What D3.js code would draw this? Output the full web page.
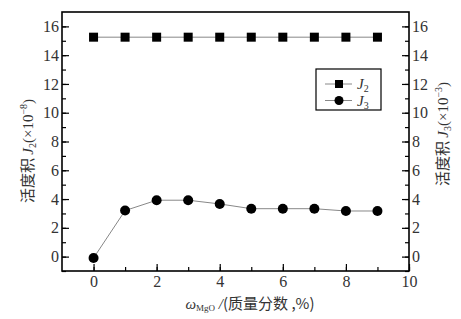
<!DOCTYPE html>
<html lang="zh">
<head>
    <meta charset="UTF-8">
    <title>活度积</title>
    <style>
        body { margin: 0; background: #fff; }
        text { fill: #333; }
    </style>
</head>
<body>
<script src="https://d3js.org/d3.v7.min.js"></script>
<script>
    var mgo = [0, 1, 2, 3, 4, 5, 6, 7, 8, 9];
    var j2 = [15.25, 15.25, 15.25, 15.25, 15.25, 15.25, 15.25, 15.25, 15.25, 15.25];
    var j3 = [-0.1, 3.2, 3.92, 3.92, 3.66, 3.33, 3.33, 3.33, 3.17, 3.17];
    var xTicks = [0, 2, 4, 6, 8, 10];
    var yTicks = [0, 2, 4, 6, 8, 10, 12, 14, 16];

    var width = 461,
        height = 319;
    // plot frame (note: "top" is a reserved window property, so use m-prefixed names)
    var mLeft = 62, mRight = 409, mTop = 12, mBottom = 271;
    var serif = "'Liberation Serif', 'Times New Roman', serif";
    var cjk = "'Noto Sans CJK SC', sans-serif";

    var svg = d3.select("body")
        .append("svg")
        .attr("width", width)
        .attr("height", height);

    var x = d3.scaleLinear().domain([-1, 10]).range([mLeft, mRight]);
    var y = d3.scaleLinear().domain([-1, 17]).range([mBottom, mTop]);

    // minor ticks every 1, major every 2, all pointing inward
    function axisStyle(g, labels) {
        g.select(".domain").remove();
        g.selectAll("text")
            .style("font-family", serif)
            .style("font-size", "16px")
            .style("fill", "#333");
        if (!labels) g.selectAll("text").remove();
        g.selectAll("line").attr("stroke", "#000").attr("stroke-width", 1.2);
    }

    svg.append("g")
        .attr("transform", "translate(0," + mBottom + ")")
        .call(d3.axisBottom(x).tickValues(d3.range(0, 11)).tickSize(-4).tickFormat(""))
        .call(axisStyle, false);
    svg.append("g")
        .attr("transform", "translate(0," + mBottom + ")")
        .call(d3.axisBottom(x).tickValues(xTicks).tickSizeInner(-7).tickPadding(5).tickFormat(d3.format("d")))
        .call(axisStyle, true);

    svg.append("g")
        .attr("transform", "translate(" + mLeft + ",0)")
        .call(d3.axisLeft(y).tickValues(d3.range(-1, 17)).tickSize(-4).tickFormat(""))
        .call(axisStyle, false);
    svg.append("g")
        .attr("transform", "translate(" + mLeft + ",0)")
        .call(d3.axisLeft(y).tickValues(yTicks).tickSizeInner(-7).tickPadding(3).tickFormat(d3.format("d")))
        .call(axisStyle, true);

    svg.append("g")
        .attr("transform", "translate(" + mRight + ",0)")
        .call(d3.axisRight(y).tickValues(d3.range(-1, 17)).tickSize(-4).tickFormat(""))
        .call(axisStyle, false);
    svg.append("g")
        .attr("transform", "translate(" + mRight + ",0)")
        .call(d3.axisRight(y).tickValues(yTicks).tickSizeInner(-7).tickPadding(3).tickFormat(d3.format("d")))
        .call(axisStyle, true);

    svg.append("rect")
        .attr("x", mLeft).attr("y", mTop)
        .attr("width", mRight - mLeft).attr("height", mBottom - mTop)
        .attr("fill", "none").attr("stroke", "#000").attr("stroke-width", 1.6);

    var line = d3.line()
        .x(function (d, i) { return x(mgo[i]); })
        .y(function (d) { return y(d); });

    svg.append("path").datum(j2)
        .attr("d", line).attr("fill", "none").attr("stroke", "#888").attr("stroke-width", 1);
    svg.append("path").datum(j3)
        .attr("d", line).attr("fill", "none").attr("stroke", "#888").attr("stroke-width", 1);

    svg.selectAll(".sq").data(j2).enter().append("rect")
        .attr("x", function (d, i) { return x(mgo[i]) - 4.5; })
        .attr("y", function (d) { return y(d) - 4.5; })
        .attr("width", 9).attr("height", 9).attr("fill", "#000");
    svg.selectAll(".dot").data(j3).enter().append("circle")
        .attr("cx", function (d, i) { return x(mgo[i]); })
        .attr("cy", function (d) { return y(d); })
        .attr("r", 5).attr("fill", "#000");

    // legend
    var lg = svg.append("g");
    lg.append("rect").attr("x", 316).attr("y", 69).attr("width", 65).attr("height", 41)
        .attr("fill", "#fff").attr("stroke", "#000").attr("stroke-width", 1.2);
    lg.append("line").attr("x1", 325).attr("x2", 352).attr("y1", 84).attr("y2", 84).attr("stroke", "#888");
    lg.append("rect").attr("x", 335).attr("y", 80).attr("width", 8).attr("height", 8).attr("fill", "#000");
    lg.append("line").attr("x1", 325).attr("x2", 352).attr("y1", 100.5).attr("y2", 100.5).attr("stroke", "#888");
    lg.append("circle").attr("cx", 339).attr("cy", 100.5).attr("r", 4.5).attr("fill", "#000");
    var names = ["2", "3"];
    names.forEach(function (n, i) {
        var t = lg.append("text").attr("x", 357).attr("y", 89 + i * 16.5)
            .style("font-family", serif).style("font-size", "15px");
        t.append("tspan").style("font-style", "italic").text("J");
        t.append("tspan").attr("dy", 3).style("font-size", "10px").text(n);
    });

    // axis titles
    function yTitle(cx, cy, sub, exp) {
        var t = svg.append("text")
            .attr("transform", "translate(" + cx + "," + cy + ") rotate(-90)")
            .attr("text-anchor", "middle")
            .style("font-size", "15px");
        t.append("tspan").style("font-family", cjk).text("活度积 ");
        t.append("tspan").style("font-family", serif).style("font-style", "italic").text("J");
        t.append("tspan").style("font-family", serif).style("font-size", "10px").attr("dy", 3).text(sub);
        t.append("tspan").style("font-family", serif).attr("dy", -3).text("(×10");
        t.append("tspan").style("font-family", serif).style("font-size", "10px").attr("dy", -6).text(exp);
        t.append("tspan").style("font-family", serif).attr("dy", 6).text(")");
    }
    yTitle(33, 151, "2", "−8");
    yTitle(448, 134, "3", "−3");

    var xt = svg.append("text").attr("x", 250).attr("y", 309).attr("text-anchor", "middle")
        .style("font-size", "15px");
    xt.append("tspan").style("font-family", serif).style("font-style", "italic").text("ω");
    xt.append("tspan").style("font-family", serif).style("font-size", "9px").attr("dy", 2).text("MgO");
    xt.append("tspan").style("font-family", serif).style("font-style", "italic").attr("dy", -2).text(" /");
    xt.append("tspan").style("font-family", cjk).text("(质量分数 ,%)");
</script>
</body>
</html>
